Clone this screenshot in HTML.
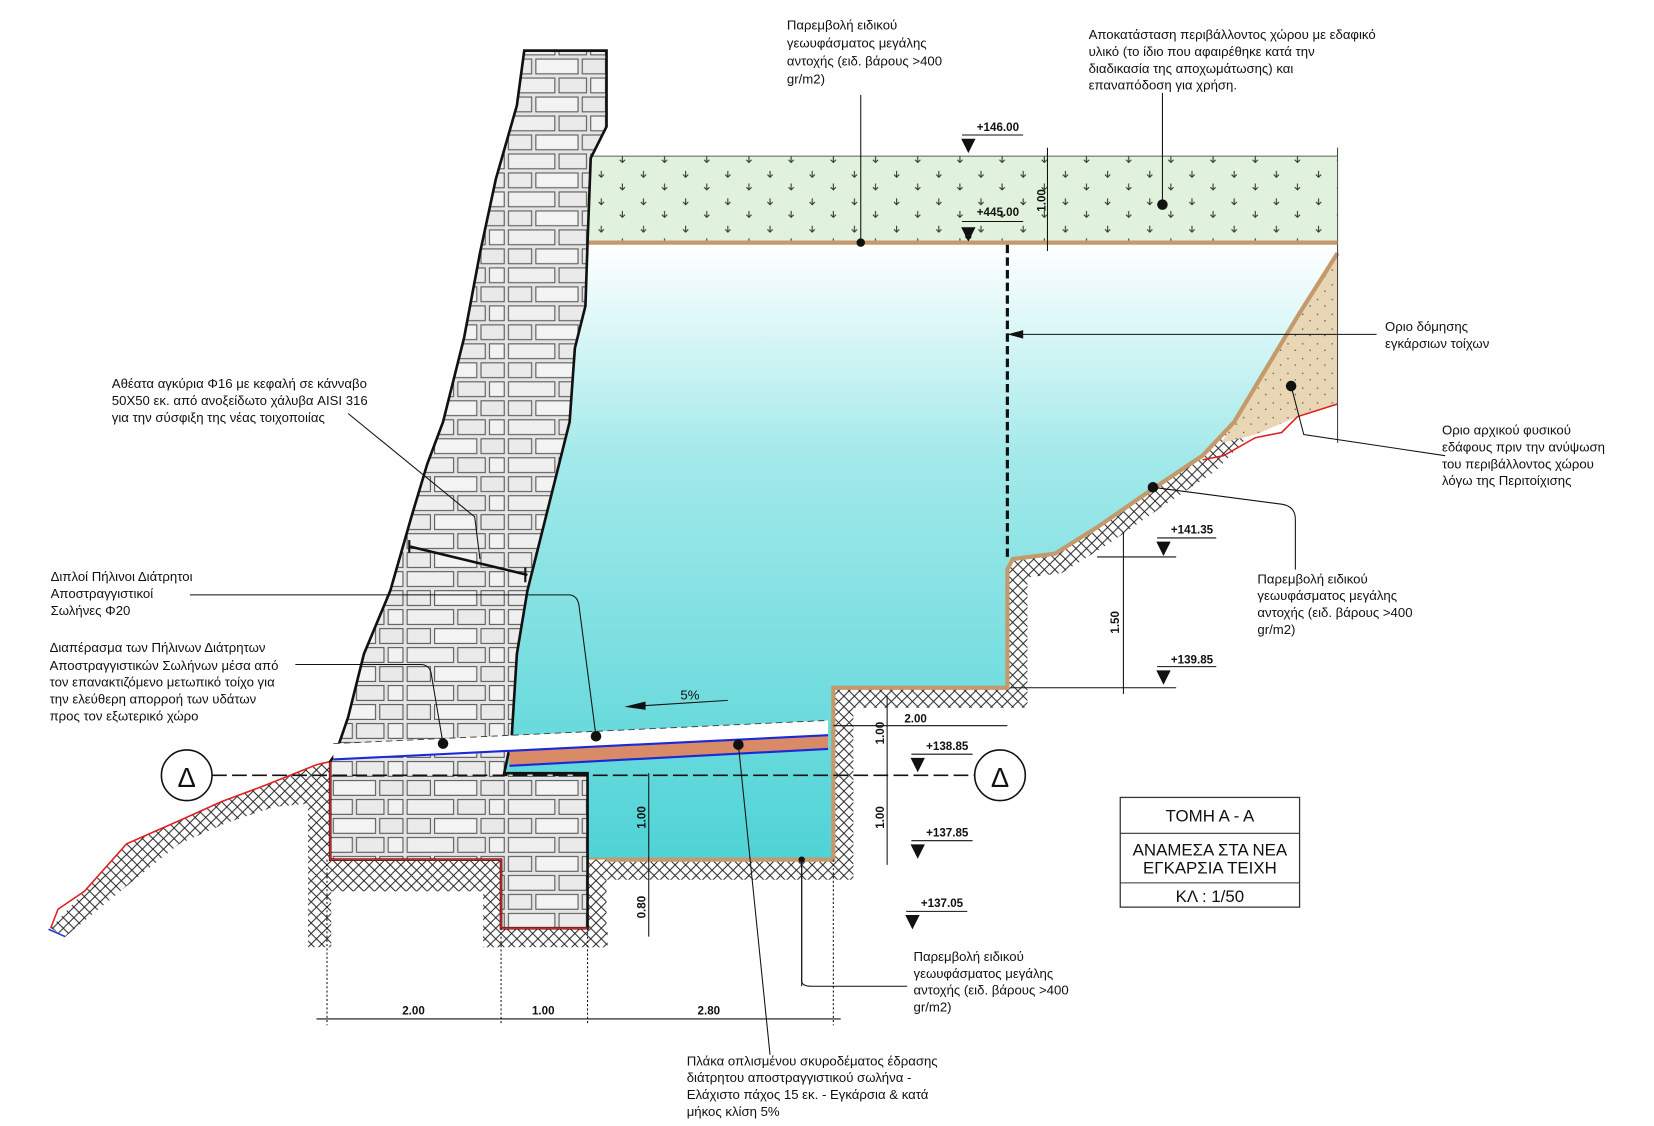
<!DOCTYPE html>
<html><head><meta charset="utf-8"><style>
html,body{margin:0;padding:0;background:#fff}
svg{display:block}
text{font-family:"Liberation Sans",Arial,sans-serif;font-size:12.5px;fill:#111}
.s{font-size:11px;font-weight:bold}
</style></head><body>
<svg width="1654" height="1126" viewBox="0 0 1568 1067.5" preserveAspectRatio="none" xmlns="http://www.w3.org/2000/svg">
<defs>
<pattern id="brick" width="96" height="36" patternUnits="userSpaceOnUse">
<rect width="96" height="36" fill="#e4e4e4"/>
<rect x="2" y="2" width="44" height="14" fill="#efefef" stroke="#555" stroke-width="1"/>
<rect x="50" y="2" width="26" height="14" fill="#eaeaea" stroke="#555" stroke-width="1"/>
<rect x="80" y="2" width="14" height="14" fill="#f2f2f2" stroke="#555" stroke-width="1"/>
<rect x="2" y="20" width="22" height="14" fill="#ebebeb" stroke="#555" stroke-width="1"/>
<rect x="28" y="20" width="40" height="14" fill="#f3f3f3" stroke="#555" stroke-width="1"/>
<rect x="72" y="20" width="22" height="14" fill="#e9e9e9" stroke="#555" stroke-width="1"/>
</pattern>
<pattern id="hatch" width="10" height="10" patternUnits="userSpaceOnUse">
<rect width="10" height="10" fill="#fff"/>
<path d="M0 0L10 10M10 0L0 10" stroke="#222" stroke-width="0.9"/>
</pattern>
<pattern id="grass" width="40" height="26" patternUnits="userSpaceOnUse">
<rect width="40" height="26" fill="#e1f2dc"/>
<path d="M10 6l0 6M7.5 9.5l2.5 2.5 2.5-2.5M30 18l0 6M27.5 21.5l2.5 2.5 2.5-2.5" stroke="#333" stroke-width="1" fill="none"/>
</pattern>
<pattern id="sand" width="14" height="14" patternUnits="userSpaceOnUse">
<rect width="14" height="14" fill="#e8d6b4"/>
<circle cx="3" cy="4" r="0.7" fill="#555"/><circle cx="10" cy="10" r="0.7" fill="#555"/>
</pattern>
<linearGradient id="water" x1="0" y1="0" x2="0" y2="1">
<stop offset="0" stop-color="#ffffff"/><stop offset="0.35" stop-color="#a2e9ea"/><stop offset="1" stop-color="#4fd3d6"/>
</linearGradient>
</defs>

<path d="M1255 262 L1230 300 L1200 350 L1170 400 L1140 432 L1095 462 L1040 500 L1000 525 L960 530 L955 540 L955 652 L790 652 L790 815 L557 815" fill="none" stroke="url(#hatch)" stroke-width="38"/>
<rect x="1250" y="232" width="40" height="40" fill="#fff"/>
<polygon points="480,232 1268,232 1268,240 1230,300 1200,350 1170,400 1140,432 1095,462 1040,500 1000,525 960,530 955,540 955,652 790,652 790,815 480,815" fill="url(#water)"/>
<polygon points="1268,240 1230,300 1200,350 1170,400 1158,420 1190,412 1230,395 1268,383" fill="url(#sand)"/>
<path d="M1268,240 L1230,300 L1200,350 L1170,400 L1140,432 L1095,462 L1040,500 L1000,525 L960,530 L955,540 L955,652 L790,652 L790,815 L557,815" fill="none" stroke="#c49a6c" stroke-width="4"/>
<path d="M1268,383 L1230,395 L1215,410 L1190,415 L1160,432 L1140,436" fill="none" stroke="#e02020" stroke-width="1.5"/>
<line x1="1268" y1="140" x2="1268" y2="420" stroke="#444" stroke-width="1"/>

<rect x="557" y="148" width="711" height="82" fill="url(#grass)" stroke="#444" stroke-width="0.8"/>
<line x1="557" y1="230" x2="1268" y2="230" stroke="#c49a6c" stroke-width="4"/>

<rect x="292" y="733" width="22" height="165" fill="url(#hatch)"/>
<rect x="292" y="815" width="190" height="30" fill="url(#hatch)"/>
<rect x="458" y="815" width="20" height="83" fill="url(#hatch)"/>
<rect x="458" y="880" width="118" height="18" fill="url(#hatch)"/>
<rect x="557" y="815" width="18" height="83" fill="url(#hatch)"/>
<path d="M48 880 L80 845 L120 800 L170 778 L210 760 L250 745 L300 725 L313 722 L313 760 L260 765 L215 780 L170 800 L120 840 L62 888 Z" fill="url(#hatch)"/>
<path d="M48 880 L55 862 L80 845 L120 800 L170 778 L210 760 L250 745 L300 725 L313 722" fill="none" stroke="#e02020" stroke-width="1.5"/>
<line x1="46" y1="881" x2="62" y2="888" stroke="#1a3bd8" stroke-width="1.5"/>

<path d="M497,48 L575,48 L575,120 L560,150 L557,230 L555,290 L545,330 L540,400 L520,480 L500,560 L490,620 L485,700 L478,733 L557,733 L557,880 L475,880 L475,815 L313,815 L313,722 L318,715 L330,680 L345,620 L370,560 L390,490 L405,440 L420,400 L440,320 L455,240 L470,170 L490,100 Z" fill="url(#brick)" stroke="#111" stroke-width="2.5"/>
<path d="M313,722 L313,815 L475,815 L475,880 L557,880" fill="none" stroke="#e02020" stroke-width="1.5"/>

<polygon points="316,705 785,683 785,697 316,720" fill="#fff"/>
<line x1="316" y1="705" x2="785" y2="683" stroke="#333" stroke-dasharray="6,4" stroke-width="0.8"/>
<polygon points="483,712 785,697 785,710 483,726" fill="#d98a66"/>
<line x1="316" y1="720" x2="785" y2="697" stroke="#1a2ad8" stroke-width="2"/>
<line x1="483" y1="726" x2="785" y2="710" stroke="#1a2ad8" stroke-width="2"/>

<line x1="388" y1="518" x2="500" y2="545" stroke="#111" stroke-width="2.5"/>
<line x1="388" y1="512" x2="388" y2="524" stroke="#111" stroke-width="2"/>
<line x1="498" y1="538" x2="498" y2="552" stroke="#111" stroke-width="2"/>

<line x1="201" y1="735" x2="924" y2="735" stroke="#111" stroke-width="1.5" stroke-dasharray="14,5"/>
<circle cx="177" cy="735" r="24" fill="#fff" stroke="#111" stroke-width="1.5"/>
<text x="177" y="746" text-anchor="middle" style="font-size:26px">Δ</text>
<circle cx="948" cy="735" r="24" fill="#fff" stroke="#111" stroke-width="1.5"/>
<text x="948" y="746" text-anchor="middle" style="font-size:26px">Δ</text>

<line x1="955" y1="232" x2="955" y2="530" stroke="#111" stroke-width="3" stroke-dasharray="8,4"/>

<g stroke="#111" stroke-width="1" fill="#111">
<line x1="912" y1="128" x2="970" y2="128"/><polygon points="912,132 924,132 918,144"/>
<line x1="912" y1="210" x2="970" y2="210"/><polygon points="912,216 924,216 918,228"/>
<line x1="1097" y1="510" x2="1153" y2="510"/><polygon points="1097,514 1109,514 1103,526"/>
<line x1="1097" y1="632" x2="1153" y2="632"/><polygon points="1097,636 1109,636 1103,648"/>
<line x1="864" y1="715" x2="922" y2="715"/><polygon points="864,719 876,719 870,731"/>
<line x1="864" y1="797" x2="922" y2="797"/><polygon points="864,801 876,801 870,813"/>
<line x1="859" y1="864" x2="917" y2="864"/><polygon points="859,868 871,868 865,880"/>
</g>
<text class="s" x="926" y="124">+146.00</text>
<text class="s" x="926" y="205">+445.00</text>
<text class="s" x="1110" y="506">+141.35</text>
<text class="s" x="1110" y="629">+139.85</text>
<text class="s" x="878" y="711">+138.85</text>
<text class="s" x="878" y="793">+137.85</text>
<text class="s" x="873" y="860">+137.05</text>

<g stroke="#111" stroke-width="1" fill="none">
<line x1="993" y1="140" x2="993" y2="238"/>
<line x1="1065" y1="505" x2="1065" y2="658"/>
<line x1="1040" y1="528" x2="1115" y2="528"/><line x1="958" y1="652" x2="1115" y2="652"/>
<line x1="841" y1="660" x2="841" y2="820"/>
<line x1="615" y1="733" x2="615" y2="888"/>
<line x1="790" y1="688" x2="955" y2="688"/>
<line x1="300" y1="966" x2="797" y2="966"/>
<line x1="760" y1="815" x2="760" y2="935"/>
</g>
<g stroke="#111" stroke-dasharray="2,2" stroke-width="1">
<line x1="310" y1="815" x2="310" y2="972"/><line x1="475" y1="880" x2="475" y2="972"/>
<line x1="557" y1="880" x2="557" y2="972"/><line x1="790" y1="815" x2="790" y2="972"/>
</g>
<text class="s" transform="translate(991,190) rotate(-90)" text-anchor="middle">1.00</text>
<text class="s" transform="translate(1061,590) rotate(-90)" text-anchor="middle">1.50</text>
<text class="s" transform="translate(838,695) rotate(-90)" text-anchor="middle">1.00</text>
<text class="s" transform="translate(838,775) rotate(-90)" text-anchor="middle">1.00</text>
<text class="s" transform="translate(612,775) rotate(-90)" text-anchor="middle">1.00</text>
<text class="s" transform="translate(612,860) rotate(-90)" text-anchor="middle">0.80</text>
<text class="s" x="868" y="685" text-anchor="middle">2.00</text>
<text class="s" x="392" y="962" text-anchor="middle">2.00</text>
<text class="s" x="515" y="962" text-anchor="middle">1.00</text>
<text class="s" x="672" y="962" text-anchor="middle">2.80</text>
<line x1="610" y1="669" x2="690" y2="664" stroke="#111"/><polygon points="592,670 612,665 612,673" fill="#111"/>
<text x="645" y="663">5%</text>

<g stroke="#111" stroke-width="1" fill="none">
<line x1="816" y1="90" x2="816" y2="230"/>
<line x1="1102" y1="88" x2="1102" y2="194"/>
<line x1="955" y1="317" x2="1305" y2="317"/>
<path d="M1224,366 L1236,412 L1370,432"/>
<path d="M1093,462 L1215,478 Q1228,480 1228,492 L1228,540"/>
<path d="M330,392 L450,490 L455,530"/>
<path d="M180,564 L540,564 Q548,565 549,575 L565,698"/>
<path d="M280,630 L400,630 Q408,631 409,640 L420,705"/>
<path d="M700,706 L730,1000"/>
<path d="M760,815 L760,930 Q760,935 770,935 L860,935"/>
</g>
<g fill="#111">
<circle cx="816" cy="230" r="4"/><circle cx="1102" cy="194" r="5"/><circle cx="1224" cy="366" r="5"/>
<circle cx="1093" cy="462" r="5"/><circle cx="565" cy="698" r="5"/><circle cx="420" cy="705" r="5"/>
<circle cx="700" cy="706" r="5"/><circle cx="760" cy="815" r="3"/><circle cx="918" cy="224" r="3"/>
<polygon points="955,317 970,313 970,321"/>
</g>

<text x="746" y="28">Παρεμβολή ειδικού</text><text x="746" y="45">γεωυφάσματος μεγάλης</text><text x="746" y="62">αντοχής (ειδ. βάρους &gt;400</text><text x="746" y="79">gr/m2)</text>
<text x="1032" y="37">Αποκατάσταση περιβάλλοντος χώρου με εδαφικό</text><text x="1032" y="53">υλικό (το ίδιο που αφαιρέθηκε κατά την</text><text x="1032" y="69">διαδικασία της αποχωμάτωσης)  και</text><text x="1032" y="85">επαναπόδοση για χρήση.</text>
<text x="1313" y="314">Οριο δόμησης</text><text x="1313" y="330">εγκάρσιων τοίχων</text>
<text x="1367" y="412">Οριο αρχικού φυσικού</text><text x="1367" y="428">εδάφους πριν την ανύψωση</text><text x="1367" y="444">του περιβάλλοντος χώρου</text><text x="1367" y="460">λόγω της Περιτοίχισης</text>
<text x="1192" y="553">Παρεμβολή ειδικού</text><text x="1192" y="569">γεωυφάσματος μεγάλης</text><text x="1192" y="585">αντοχής (ειδ. βάρους &gt;400</text><text x="1192" y="601">gr/m2)</text>
<text x="106" y="368">Αθέατα αγκύρια Φ16 με κεφαλή σε κάνναβο</text><text x="106" y="384">50Χ50 εκ. από ανοξείδωτο χάλυβα AISI 316</text><text x="106" y="400">για την σύσφιξη της νέας τοιχοποιίας</text>
<text x="48" y="551">Διπλοί Πήλινοι Διάτρητοι</text><text x="48" y="567">Αποστραγγιστικοί</text><text x="48" y="583">Σωλήνες Φ20</text>
<text x="47" y="618">Διαπέρασμα των Πήλινων Διάτρητων</text><text x="47" y="635">Αποστραγγιστικών Σωλήνων μέσα από</text><text x="47" y="651">τον επανακτιζόμενο μετωπικό τοίχο για</text><text x="47" y="667">την ελεύθερη απορροή των υδάτων</text><text x="47" y="683">προς τον εξωτερικό χώρο</text>
<text x="866" y="911">Παρεμβολή ειδικού</text><text x="866" y="927">γεωυφάσματος μεγάλης</text><text x="866" y="943">αντοχής (ειδ. βάρους &gt;400</text><text x="866" y="959">gr/m2)</text>
<text x="651" y="1010">Πλάκα οπλισμένου σκυροδέματος έδρασης</text><text x="651" y="1026">διάτρητου αποστραγγιστικού σωλήνα -</text><text x="651" y="1042">Ελάχιστο πάχος 15 εκ. - Εγκάρσια &amp; κατά</text><text x="651" y="1058">μήκος κλίση 5%</text>

<rect x="1062" y="756" width="170" height="104" fill="#fff" stroke="#333" stroke-width="1.2"/>
<line x1="1062" y1="790" x2="1232" y2="790" stroke="#333"/><line x1="1062" y1="837" x2="1232" y2="837" stroke="#333"/>
<text x="1147" y="779" text-anchor="middle" style="font-size:16px">ΤΟΜΗ Α - Α</text>
<text x="1147" y="811" text-anchor="middle" style="font-size:16px">ΑΝΑΜΕΣΑ ΣΤΑ ΝΕΑ</text>
<text x="1147" y="828" text-anchor="middle" style="font-size:16px">ΕΓΚΑΡΣΙΑ ΤΕΙΧΗ</text>
<text x="1147" y="855" text-anchor="middle" style="font-size:16px">ΚΛ : 1/50</text>
</svg>
</body></html>
